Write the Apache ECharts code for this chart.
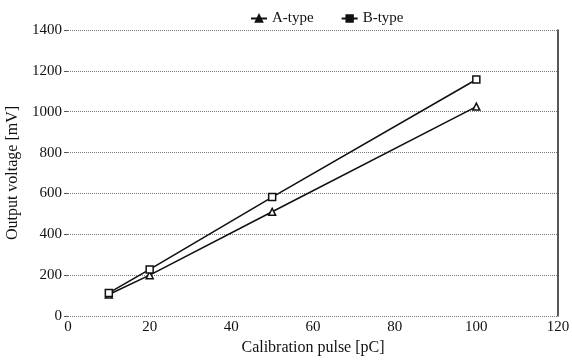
<!DOCTYPE html>
<html>
<head>
<meta charset="utf-8">
<script src="https://cdn.jsdelivr.net/npm/echarts@6/dist/echarts.min.js"></script>
<style>
  html, body { margin: 0; padding: 0; background: #fff; }
  #chart { width: 572px; height: 364px; }
</style>
</head>
<body>
<div id="chart"></div>
<script>
const pulse = [10, 20, 50, 100];
const aType = [105, 200, 510, 1025];
const bType = [113, 228, 582, 1158];
const seriesNames = ['A-type', 'B-type'];

const chart = echarts.init(document.getElementById('chart'));
const font = '"Liberation Serif", "DejaVu Serif", serif';

const option = {
  backgroundColor: '#fff',
  animation: false,
  textStyle: { fontFamily: font, color: '#111' },
  legend: {
    data: seriesNames,
    top: 6,
    left: 245,
    itemWidth: 16,
    itemHeight: 8,
    itemGap: 27,
    itemStyle: { color: '#111' },
    textStyle: { fontFamily: font, fontSize: 15, color: '#111' },
  },
  grid: { left: 68, right: 14, top: 30, bottom: 48, outerBoundsMode: 'none' },
  xAxis: {
    type: 'value',
    min: 0,
    max: 120,
    interval: 20,
    name: 'Calibration pulse [pC]',
    nameLocation: 'middle',
    nameGap: 24,
    nameTextStyle: { fontFamily: font, fontSize: 16, color: '#111' },
    axisLine: { show: false },
    axisTick: { show: false },
    axisLabel: { fontFamily: font, fontSize: 15, color: '#111', margin: 4 },
    splitLine: { show: false },
  },
  yAxis: [
    {
      type: 'value',
      min: 0,
      max: 1400,
      interval: 200,
      name: 'Output voltage [mV]',
      nameLocation: 'middle',
      nameGap: 42,
      nameTextStyle: { fontFamily: font, fontSize: 16, color: '#111' },
      axisLine: { show: false },
      axisTick: { show: true, length: 4, lineStyle: { color: '#555' } },
      axisLabel: { fontFamily: font, fontSize: 15, color: '#111', margin: 6, formatter: v => String(v) },
      splitLine: { lineStyle: { color: '#777', type: 'dotted', width: 1 } },
    },
    {
      type: 'value',
      min: 0,
      max: 1400,
      interval: 200,
      position: 'right',
      axisLine: { show: true, lineStyle: { color: '#222', width: 1.5 } },
      axisTick: { show: false },
      axisLabel: { show: false },
      splitLine: { show: false },
    },
  ],
  series: [
    {
      name: seriesNames[0],
      type: 'line',
      data: pulse.map((x, i) => [x, aType[i]]),
      symbol: 'triangle',
      symbolSize: 7,
      lineStyle: { color: '#111', width: 1.6 },
      itemStyle: { color: '#fff', borderColor: '#111', borderWidth: 1.5 },
    },
    {
      name: seriesNames[1],
      type: 'line',
      data: pulse.map((x, i) => [x, bType[i]]),
      symbol: 'rect',
      symbolSize: 7,
      lineStyle: { color: '#111', width: 1.6 },
      itemStyle: { color: '#fff', borderColor: '#111', borderWidth: 1.5 },
    },
  ],
};

chart.setOption(option);
</script>
</body>
</html>
